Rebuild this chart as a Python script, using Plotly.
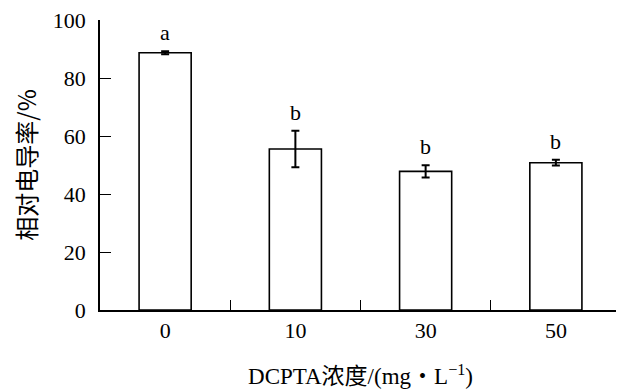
import plotly.graph_objects as go

categories = ["0", "10", "30", "50"]
values = [88.7, 55.5, 47.8, 50.8]
errors = [0.5, 6.3, 2.1, 1.0]
letters = ["a", "b", "b", "b"]
y_ticks = [0, 20, 40, 60, 80, 100]

serif = "Liberation Serif, Times New Roman, serif"

fig = go.Figure()
fig.add_trace(go.Bar(
    x=categories, y=values,
    width=0.4,
    marker=dict(color="white", line=dict(color="black", width=1.6)),
    error_y=dict(type="data", array=errors, visible=True,
                 color="black", thickness=2, width=4),
    showlegend=False,
))

for i, (v, e, t) in enumerate(zip(values, errors, letters)):
    fig.add_annotation(x=i, y=v + e, xref="x", yref="y", text=t, showarrow=False,
                       yanchor="bottom", yshift=4,
                       font=dict(family=serif, size=22, color="black"))

fig.update_layout(
    width=616, height=382,
    margin=dict(l=92, r=3, t=12, b=80),
    plot_bgcolor="white", paper_bgcolor="white",
    bargap=0.6,
)
fig.update_xaxes(
    type="category", range=[-0.5, 3.5], automargin=False,
    showline=True, linecolor="black", linewidth=1.6,
    ticks="inside", tickson="boundaries", ticklen=10, tickwidth=1.3, tickcolor="black",
    tickfont=dict(family=serif, size=22, color="black"),
    showgrid=False, zeroline=False,
    title=dict(text="DCPTA浓度/(mg・L<sup>−1</sup>)",
               font=dict(family="Liberation Serif, Noto Sans CJK SC", size=23, color="black"),
               standoff=26),
)
fig.update_yaxes(
    range=[0, 100], tickvals=y_ticks, automargin=False,
    showline=True, linecolor="black", linewidth=1.6,
    ticks="inside", ticklen=11, tickwidth=1.3, tickcolor="black",
    tickfont=dict(family=serif, size=22, color="black"),
    ticklabelstandoff=8, ticklabeloverflow="allow",
    showgrid=False, zeroline=False,
    title=dict(text="相对电导率/%",
               font=dict(family="Noto Sans CJK SC", size=24, color="black"),
               standoff=20),
)

fig.write_html("out.html")
